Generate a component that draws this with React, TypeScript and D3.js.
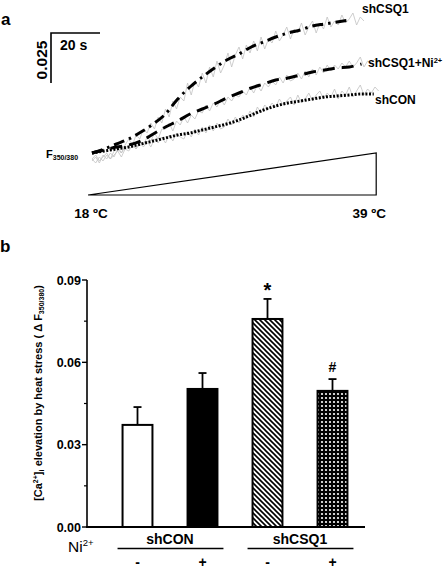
import React from "react";
import * as d3 from "d3";

// ---------- Panel a data (ΔF350/380 x 1000, time in s) ----------
const fitStep = 5;
const fitCSQ1 = [0, 2, 4.5, 7, 10.5, 14.5, 19.5, 27, 33, 38, 42.5, 46.5, 49.5, 53, 55.5, 58, 60, 61.5, 63.5, 64.5, 65.5, 66.5];
const fitCSQ1Ni = [0, 1.5, 3, 4, 6, 9.5, 13, 16, 19.5, 22, 24.5, 27.5, 30, 32.5, 34.5, 36.5, 37.5, 39, 40.5, 41.5, 42.5, 43, 44.5];
const fitCON = [0, 1, 2, 3, 4.5, 6, 7.5, 9, 10, 11.5, 13, 14.5, 16.5, 19, 21.5, 23.5, 25, 26, 27, 28, 28.5, 29, 29.5, 29.5];

const rawStep = 1.5;
const rawCSQ1 = [
  -3, -5, -2, -4, -1, -3, 1, 3, 0, 4,
  7, 4, 9, 7, 12, 10, 15, 12, 18, 15,
  22, 18, 26, 22, 28, 26, 35, 29, 36, 33,
  40, 35, 43, 38, 46, 40, 44, 50, 43, 49,
  53, 47, 54, 50, 56, 51, 58, 52, 57, 55,
  61, 56, 59, 63, 57, 62, 60, 65, 59, 63,
  66, 60, 65, 62, 68, 63, 66, 64, 69, 65,
  67, 70, 64, 68, 66,
];
const rawCSQ1Ni = [
  -4, -2, -5, -1, -3, 0, -2, 2, 0, 3,
  3, 5, 2, 6, 4, 8, 6, 10, 7, 12,
  12, 15, 11, 16, 14, 18, 15, 19, 17, 21,
  20, 24, 21, 25, 23, 27, 24, 28, 26, 29,
  28, 31, 29, 33, 30, 34, 31, 35, 33, 36,
  34, 38, 35, 39, 36, 37, 40, 37, 41, 38,
  42, 39, 43, 40, 44, 41, 44, 42, 45, 43,
  46, 43, 45, 48, 43, 46, 45, 47, 46,
];
const rawCON = [
  -3, -1, -4, -2, 0, -3, -1, 1, -2, 2,
  1, 4, 2, 5, 3, 6, 3, 7, 5, 8,
  5, 9, 6, 10, 8, 7, 11, 8, 12, 9,
  13, 10, 14, 11, 15, 12, 13, 17, 14, 18,
  15, 19, 17, 21, 18, 23, 20, 24, 22, 25,
  23, 27, 24, 26, 28, 24, 29, 25, 27, 30,
  26, 29, 31, 27, 30, 28, 32, 27, 31, 29,
  33, 28, 31, 34, 29, 32, 30, 33, 31,
];

const rampTimes = [-1.6, 116];
const rampTemps = [18, 39];
const scaleBarTime = 20;
const scaleBarF = 25;

// ---------- Panel b data ----------
const groups = ["shCON -", "shCON +", "shCSQ1 -", "shCSQ1 +"];
const means = [0.0372, 0.0503, 0.0758, 0.0496];
const sems = [0.0065, 0.0058, 0.0073, 0.0043];
const niSigns = ["-", "+", "-", "+"];
const cellLines = ["shCON", "shCON", "shCSQ1", "shCSQ1"];
const marks = ["", "", "*", "#"];
const majorTicks = [0, 0.03, 0.06, 0.09];
const minorTicks = [0.015, 0.045, 0.075];

const FONT = "'Liberation Sans', Arial, sans-serif";

export default function App() {
  // panel a scales
  const xa = d3.scaleLinear().domain([0, 120]).range([92, 92 + 120 * 2.45]);
  const ya = d3.scaleLinear().domain([0, 70]).range([153, 13]);
  const ramp = d3.scaleLinear().domain(rampTemps).range([195, 153]);

  const fitLine = d3
    .line<number>()
    .x((_, i) => xa(i * fitStep))
    .y((d) => ya(d))
    .curve(d3.curveMonotoneX);
  const rawLine = d3
    .line<number>()
    .x((_, i) => xa(i * rawStep))
    .y((d) => ya(d));

  // panel b scales
  const xb = d3.scaleBand<string>().domain(groups).range([105, 365]).paddingInner(0.54).paddingOuter(0.27);
  const yb = d3.scaleLinear().domain([0, 0.09]).range([527, 280]);
  const fills = ["#fff", "#000", "url(#hatch)", "url(#dots)"];

  const cellGroups = Array.from(new Set(cellLines)).map((name) => {
    const members = groups.filter((_, i) => cellLines[i] === name);
    const x0 = xb(members[0])!;
    const x1 = xb(members[members.length - 1])! + xb.bandwidth();
    return { name, x0: x0 - 5, x1: x1 + 6, cx: (x0 + x1) / 2 };
  });

  const tx0 = xa(rampTimes[0]);
  const tx1 = xa(rampTimes[1]);

  return (
    <svg
      width={448}
      height={574}
      style={{ position: "absolute", left: 0, top: 0, background: "#fff" }}
      fontFamily={FONT}
    >
      <defs>
        <pattern id="hatch" patternUnits="userSpaceOnUse" width={5} height={5}>
          <rect width={5} height={5} fill="#fff" />
          <path d="M-1,-1 L6,6 M-1,4 L1,6 M4,-1 L6,1" stroke="#000" strokeWidth={1.6} />
        </pattern>
        <pattern id="dots" patternUnits="userSpaceOnUse" width={4} height={4}>
          <rect width={4} height={4} fill="#000" />
          <circle cx={2} cy={2} r={1.1} fill="#fff" />
        </pattern>
      </defs>

      {/* ---------- Panel a ---------- */}
      <text x={1} y={25} fontSize={17} fontWeight="bold">a</text>

      {/* scale bar */}
      <path
        d={`M${51 + xa(scaleBarTime) - xa(0)},33 H51 V${33 + ya(0) - ya(scaleBarF)}`}
        fill="none"
        stroke="#000"
        strokeWidth={1.6}
      />
      <text x={60} y={50} fontSize={14} fontWeight="bold">20 s</text>
      <text
        transform="translate(47,60) rotate(-90)"
        textAnchor="middle"
        fontSize={15.5}
        fontWeight="bold"
      >
        0.025
      </text>

      {/* raw traces */}
      {[rawCSQ1, rawCSQ1Ni, rawCON].map((r, i) => (
        <path key={i} d={rawLine(r)!} fill="none" stroke="#c2c2c2" strokeWidth={0.8} />
      ))}

      {/* fitted curves */}
      <path d={fitLine(fitCON)!} fill="none" stroke="#000" strokeWidth={3} strokeDasharray="2,1.6" />
      <path d={fitLine(fitCSQ1Ni)!} fill="none" stroke="#000" strokeWidth={3} strokeDasharray="12,7" />
      <path d={fitLine(fitCSQ1)!} fill="none" stroke="#000" strokeWidth={3} strokeDasharray="11,5,2.5,5" />

      {/* curve labels */}
      <text x={362} y={13} fontSize={12} fontWeight="bold">shCSQ1</text>
      <text x={368} y={67} fontSize={12} fontWeight="bold">
        shCSQ1+Ni<tspan fontSize={7.5} dy={-4}>2+</tspan>
      </text>
      <text x={375} y={104} fontSize={12} fontWeight="bold">shCON</text>
      <text x={46} y={158} fontSize={11} fontWeight="bold">
        F<tspan fontSize={7} dy={2}>350/380</tspan>
      </text>

      {/* temperature ramp */}
      <path
        d={`M${tx0},${ramp(rampTemps[0])} L${tx1},${ramp(rampTemps[0])} L${tx1},${ramp(rampTemps[1])} Z`}
        fill="none"
        stroke="#000"
        strokeWidth={1.2}
      />
      <text x={tx0 + 3} y={218} textAnchor="middle" fontSize={13.5} fontWeight="bold">
        {`${rampTemps[0]} ºC`}
      </text>
      <text x={tx1 - 7} y={218} textAnchor="middle" fontSize={13.5} fontWeight="bold">
        {`${rampTemps[1]} ºC`}
      </text>

      {/* ---------- Panel b ---------- */}
      <text x={0} y={252} fontSize={17} fontWeight="bold">b</text>

      {/* bars */}
      {groups.map((g, i) => {
        const x = xb(g)!;
        const w = xb.bandwidth();
        const cx = x + w / 2;
        const yTop = yb(means[i]);
        const yErr = yb(means[i] + sems[i]);
        return (
          <g key={g}>
            <line x1={cx} x2={cx} y1={yTop} y2={yErr} stroke="#000" strokeWidth={1.8} />
            <line x1={cx - 4} x2={cx + 4} y1={yErr} y2={yErr} stroke="#000" strokeWidth={1.8} />
            <rect x={x} y={yTop} width={w} height={yb(0) - yTop} fill={fills[i]} stroke="#000" strokeWidth={2} />
            {marks[i] && (
              <text
                x={cx}
                y={marks[i] === "*" ? yErr - 2 : yErr - 7}
                textAnchor="middle"
                fontSize={marks[i] === "*" ? 20 : 14}
                fontWeight="bold"
              >
                {marks[i]}
              </text>
            )}
          </g>
        );
      })}

      {/* axes */}
      <line x1={87} x2={87} y1={yb(0.09)} y2={yb(0)} stroke="#000" strokeWidth={1.6} />
      <line x1={86} x2={365} y1={yb(0)} y2={yb(0)} stroke="#000" strokeWidth={1.8} />
      {majorTicks.map((t) => (
        <g key={t}>
          <line x1={82} x2={87} y1={yb(t)} y2={yb(t)} stroke="#000" strokeWidth={1.4} />
          <text x={81} y={yb(t) + 4.5} textAnchor="end" fontSize={12.5} fontWeight="bold">
            {d3.format(".2f")(t)}
          </text>
        </g>
      ))}
      {minorTicks.map((t) => (
        <line key={t} x1={84} x2={87} y1={yb(t)} y2={yb(t)} stroke="#000" strokeWidth={1.2} />
      ))}

      {/* y axis label */}
      <text
        transform="translate(42,393) rotate(-90)"
        textAnchor="middle"
        fontSize={11}
        fontWeight="bold"
      >
        [Ca<tspan fontSize={7} dy={-4}>2+</tspan>
        <tspan dy={4}>]</tspan>
        <tspan fontSize={7.5} dy={2}>i</tspan>
        <tspan dy={-2}> elevation by heat stress ( Δ F</tspan>
        <tspan fontSize={7} dy={2}>350/380</tspan>
        <tspan dy={-2}>)</tspan>
      </text>

      {/* group labels */}
      {cellGroups.map((cg) => (
        <g key={cg.name}>
          <text x={cg.cx} y={544} textAnchor="middle" fontSize={14} fontWeight="bold">
            {cg.name}
          </text>
          <line x1={cg.x0} x2={cg.x1} y1={548.5} y2={548.5} stroke="#000" strokeWidth={1.4} />
        </g>
      ))}
      {groups.map((g, i) => (
        <text
          key={g}
          x={xb(g)! + xb.bandwidth() / 2}
          y={567}
          textAnchor="middle"
          fontSize={14}
          fontWeight="bold"
        >
          {niSigns[i]}
        </text>
      ))}
      <text x={68} y={552} fontSize={15.5}>
        Ni<tspan fontSize={9.5} dy={-6}>2+</tspan>
      </text>
    </svg>
  );
}
